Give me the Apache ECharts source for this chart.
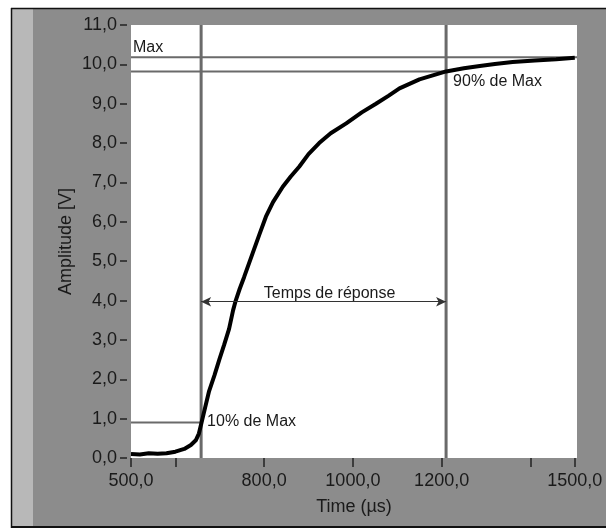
<!DOCTYPE html>
<html>
<head>
<meta charset="utf-8">
<script src="https://cdn.jsdelivr.net/npm/echarts@6/dist/echarts.min.js"></script>
<style>
html,body{margin:0;padding:0;background:#fff;}
#c{width:606px;height:528px;}
</style>
</head>
<body>
<div id="c"></div>
<script>
// ---- data ----
const timeUs = [500,520,540,560,580,600,620,635,646,653,659,667,676,688,699,710,721,730,736,745,755,774,790,804,820,842,860,879,900,924,950,985,1020,1052,1080,1105,1150,1210,1250,1286,1320,1360,1410,1458,1500];
const amplitudeV = [0.10,0.09,0.12,0.11,0.12,0.16,0.23,0.33,0.45,0.62,0.90,1.28,1.70,2.10,2.50,2.88,3.28,3.75,4.00,4.30,4.60,5.20,5.70,6.13,6.50,6.89,7.15,7.40,7.72,8.00,8.25,8.50,8.78,9.00,9.20,9.39,9.62,9.82,9.90,9.96,10.01,10.06,10.10,10.13,10.17];
const xTicks = [500,600,800,1000,1200,1400,1500];
const xLabels = [500,800,1000,1200,1500];
const maxLevel = 10.18;
const level90 = 9.82;
const level10 = 0.90;
const t10 = 658;
const t90 = 1210;
const arrowLevel = 3.97;
const xMin = 500, xMax = 1505, yMin = 0, yMax = 11;

const fmt = v => v.toFixed(1).replace('.', ',');
const FONT = '"Liberation Sans", Arial, sans-serif';
const chart = echarts.init(document.getElementById('c'), null, {renderer: 'canvas'});

const curve = timeUs.map((t, i) => [t, amplitudeV[i]]);
const lineStyleGrey = (w) => ({color: '#6a6a6a', width: w});

chart.setOption({
  animation: false,
  backgroundColor: '#8c8c8c',
  grid: {left: 131, right: 29, top: 25, bottom: 70, show: true, backgroundColor: '#ffffff', borderWidth: 0, outerBoundsMode: 'none'},
  xAxis: {
    type: 'value', min: xMin, max: xMax, offset: 3,
    name: 'Time (µs)', nameLocation: 'middle', nameGap: 37, nameMoveOverlap: false,
    nameTextStyle: {fontFamily: FONT, fontSize: 18, color: '#1a1a1a'},
    axisLine: {show: false},
    splitLine: {show: false},
    axisTick: {show: true, length: 9, customValues: xTicks, lineStyle: {color: '#222', width: 1.5}},
    axisLabel: {customValues: xLabels, formatter: fmt, fontFamily: FONT, fontSize: 18, color: '#1a1a1a', margin: 11}
  },
  yAxis: {
    type: 'value', min: yMin, max: yMax, interval: 1, offset: 4,
    name: 'Amplitude [V]', nameLocation: 'middle', nameGap: 52, nameMoveOverlap: false,
    nameTextStyle: {fontFamily: FONT, fontSize: 18, color: '#1a1a1a'},
    axisLine: {show: false},
    splitLine: {show: false},
    axisTick: {show: true, length: 7, lineStyle: {color: '#222', width: 1.5}},
    axisLabel: {formatter: fmt, fontFamily: FONT, fontSize: 18, color: '#1a1a1a', margin: 10}
  },
  series: [
    {type: 'line', data: [[xMin, maxLevel], [xMax, maxLevel]], showSymbol: false, lineStyle: lineStyleGrey(2), z: 3, silent: true},
    {type: 'line', data: [[xMin, level90], [t90, level90]], showSymbol: false, lineStyle: lineStyleGrey(2), z: 3, silent: true},
    {type: 'line', data: [[xMin, level10], [t10, level10]], showSymbol: false, lineStyle: lineStyleGrey(2), z: 3, silent: true},
    {type: 'line', data: [[t10, yMin], [t10, yMax]], showSymbol: false, lineStyle: lineStyleGrey(3), z: 3, silent: true},
    {type: 'line', data: [[t90, yMin], [t90, yMax]], showSymbol: false, lineStyle: lineStyleGrey(3), z: 3, silent: true},
    {type: 'line', data: curve, showSymbol: false, lineStyle: {color: '#000', width: 4}, z: 4,
     markLine: {silent: true, symbol: ['arrow', 'arrow'], symbolSize: [7, 10], label: {show: false},
       lineStyle: {color: '#333', width: 1, type: 'solid'},
       data: [[{coord: [t10, arrowLevel]}, {coord: [t90, arrowLevel]}]]}}
  ]
});

const P = (x, y) => chart.convertToPixel({gridIndex: 0}, [x, y]);
const pMax = P(xMin, maxLevel);
const p90 = P(t90, level90);
const p10 = P(t10, level10);
const pA = P((t10 + t90) / 2, arrowLevel);
const txt = (x, y, s, align) => ({type: 'text', x: x, y: y, z: 10,
  style: {text: s, fontFamily: FONT, fontSize: 16, fill: '#1a1a1a', align: align || 'left', verticalAlign: 'middle'}});

chart.setOption({
  graphic: [
    {type: 'rect', shape: {x: 0, y: 0, width: 606, height: 8}, style: {fill: '#ffffff'}, z: 0},
    {type: 'rect', shape: {x: 0, y: 0, width: 11, height: 528}, style: {fill: '#ffffff'}, z: 0},
    {type: 'rect', shape: {x: 12, y: 9, width: 21, height: 517}, style: {fill: '#b8b8b8'}, z: 0},
    {type: 'line', shape: {x1: 11, y1: 8.5, x2: 606, y2: 8.5}, style: {stroke: '#111', lineWidth: 1.5}, z: 1},
    {type: 'line', shape: {x1: 11.5, y1: 8, x2: 11.5, y2: 528}, style: {stroke: '#111', lineWidth: 1.5}, z: 1},
    {type: 'line', shape: {x1: 11, y1: 527, x2: 606, y2: 527}, style: {stroke: '#111', lineWidth: 2}, z: 1},
    txt(pMax[0] + 2, pMax[1] - 10, 'Max'),
    txt(p90[0] + 7, p90[1] + 10, '90% de Max'),
    txt(p10[0] + 6, p10[1] - 1, '10% de Max'),
    txt(pA[0] + 6, pA[1] - 8, 'Temps de réponse', 'center')
  ]
});
</script>
</body>
</html>
